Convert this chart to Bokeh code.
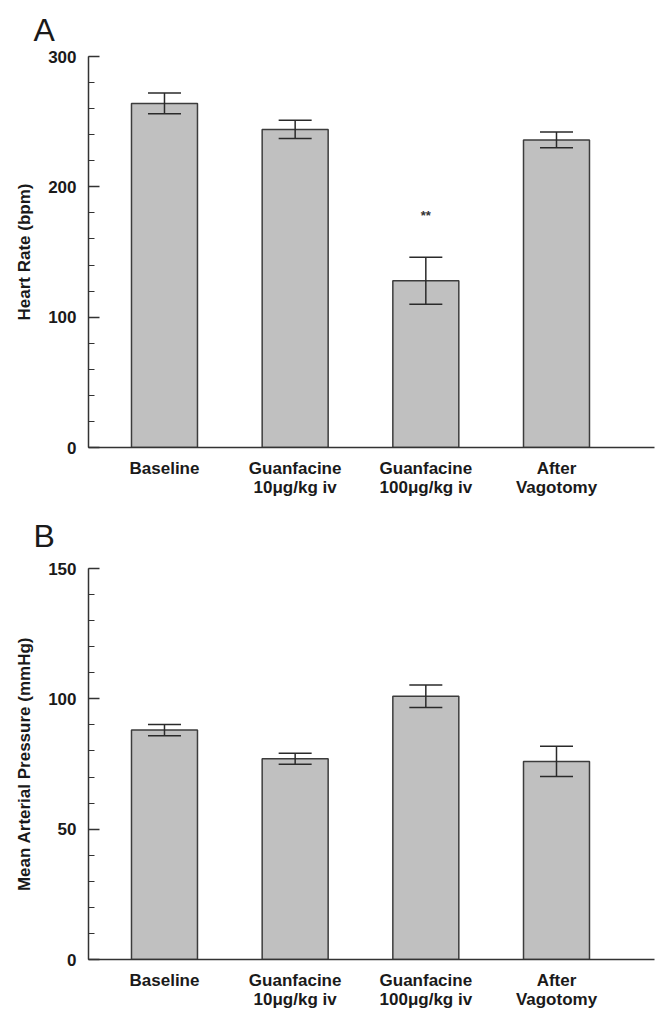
from bokeh.plotting import figure
from bokeh.layouts import column
from bokeh.models import Range1d, FixedTicker, SingleIntervalTicker, Whisker, TeeHead, ColumnDataSource
from bokeh.core.properties import value
from bokeh.embed import file_html
from bokeh.resources import INLINE

# ---- data ----
categories = ["Baseline", "Guanfacine\n10\u03bcg/kg iv", "Guanfacine\n100\u03bcg/kg iv", "After\nVagotomy"]
positions = [1, 2, 3, 4]
hr_mean = [264, 244, 128, 236]
hr_sem = [8, 7, 18, 6]
map_mean = [88, 77, 101, 76]
map_sem = [2.2, 2.1, 4.3, 5.8]
sig_pos = [3]
sig_y = [178]
sig_text = ["**"]

FONT = "Liberation Sans"
TXT = "#1a1a1a"
AX = "#333333"
X_LO, X_HI = 0.4185, 4.75


def make_panel(letter, means, sems, ymax, interval, ylabel, height, top, bottom, title_standoff):
    p = figure(width=660, height=height, output_backend="svg", toolbar_location=None,
               x_range=Range1d(X_LO, X_HI), y_range=Range1d(0, ymax),
               min_border_left=88, min_border_right=6, min_border_top=top, min_border_bottom=bottom)
    p.outline_line_color = None
    p.xgrid.grid_line_color = None
    p.ygrid.grid_line_color = None
    p.background_fill_color = "white"

    src = ColumnDataSource(dict(x=positions, top=means,
                                upper=[m + s for m, s in zip(means, sems)],
                                lower=[m - s for m, s in zip(means, sems)]))
    p.vbar(x="x", top="top", width=0.505, bottom=0, source=src,
           fill_color="#c0c0c0", line_color="#3c3c3c", line_width=1.5)
    w = Whisker(base="x", upper="upper", lower="lower", source=src,
                line_color="#2a2a2a", line_width=1.5, level="annotation",
                upper_head=TeeHead(size=33, line_color="#2a2a2a", line_width=1.5),
                lower_head=TeeHead(size=33, line_color="#2a2a2a", line_width=1.5))
    p.add_layout(w)

    # y axis
    ya = p.yaxis[0]
    ya.ticker = SingleIntervalTicker(interval=interval, num_minor_ticks=5)
    ya.axis_line_color = AX
    ya.axis_line_width = 1.5
    ya.major_tick_in = 11
    ya.major_tick_out = 0
    ya.minor_tick_in = 6
    ya.minor_tick_out = 0
    ya.major_tick_line_color = AX
    ya.major_tick_line_width = 1.5
    ya.minor_tick_line_color = AX
    ya.minor_tick_line_width = 1.2
    ya.major_label_standoff = 12
    ya.major_label_text_font = FONT
    ya.major_label_text_font_style = "bold"
    ya.major_label_text_font_size = "17px"
    ya.major_label_text_color = TXT
    ya.axis_label = ylabel
    ya.axis_label_text_font = FONT
    ya.axis_label_text_font_style = "bold"
    ya.axis_label_text_font_size = "17px"
    ya.axis_label_text_color = TXT
    ya.axis_label_standoff = 11

    # x axis
    xa = p.xaxis[0]
    xa.ticker = FixedTicker(ticks=positions)
    xa.major_label_overrides = {pos: lab for pos, lab in zip(positions, categories)}
    xa.axis_line_color = AX
    xa.axis_line_width = 1.5
    xa.major_tick_line_color = None
    xa.minor_tick_line_color = None
    xa.major_tick_in = 0
    xa.major_tick_out = 0
    xa.major_label_standoff = 11
    xa.major_label_text_font = FONT
    xa.major_label_text_font_style = "bold"
    xa.major_label_text_font_size = "17px"
    xa.major_label_text_color = TXT
    xa.major_label_text_line_height = 1.0

    # panel letter as the figure title
    p.title.text = letter
    p.title.text_font = FONT
    p.title.text_font_style = "normal"
    p.title.text_font_size = "32px"
    p.title.text_color = TXT
    p.title.align = "left"
    p.title.vertical_align = "bottom"
    p.title.offset = -55
    p.title.standoff = title_standoff
    return p


p1 = make_panel("A", hr_mean, hr_sem, 300, 100, "Heart Rate (bpm)", 500, 56, 53, 18)
p1.text(x=sig_pos, y=sig_y, text=sig_text, text_align="center", text_baseline="middle",
        text_font=value(FONT), text_font_style="bold", text_font_size="13px", text_color="#333333")
p2 = make_panel("B", map_mean, map_sem, 150, 50, "Mean Arterial Pressure (mmHg)", 511, 68, 52, 30)

layout = column(p1, p2, spacing=0)
open("out.html", "w").write(file_html(layout, INLINE))
